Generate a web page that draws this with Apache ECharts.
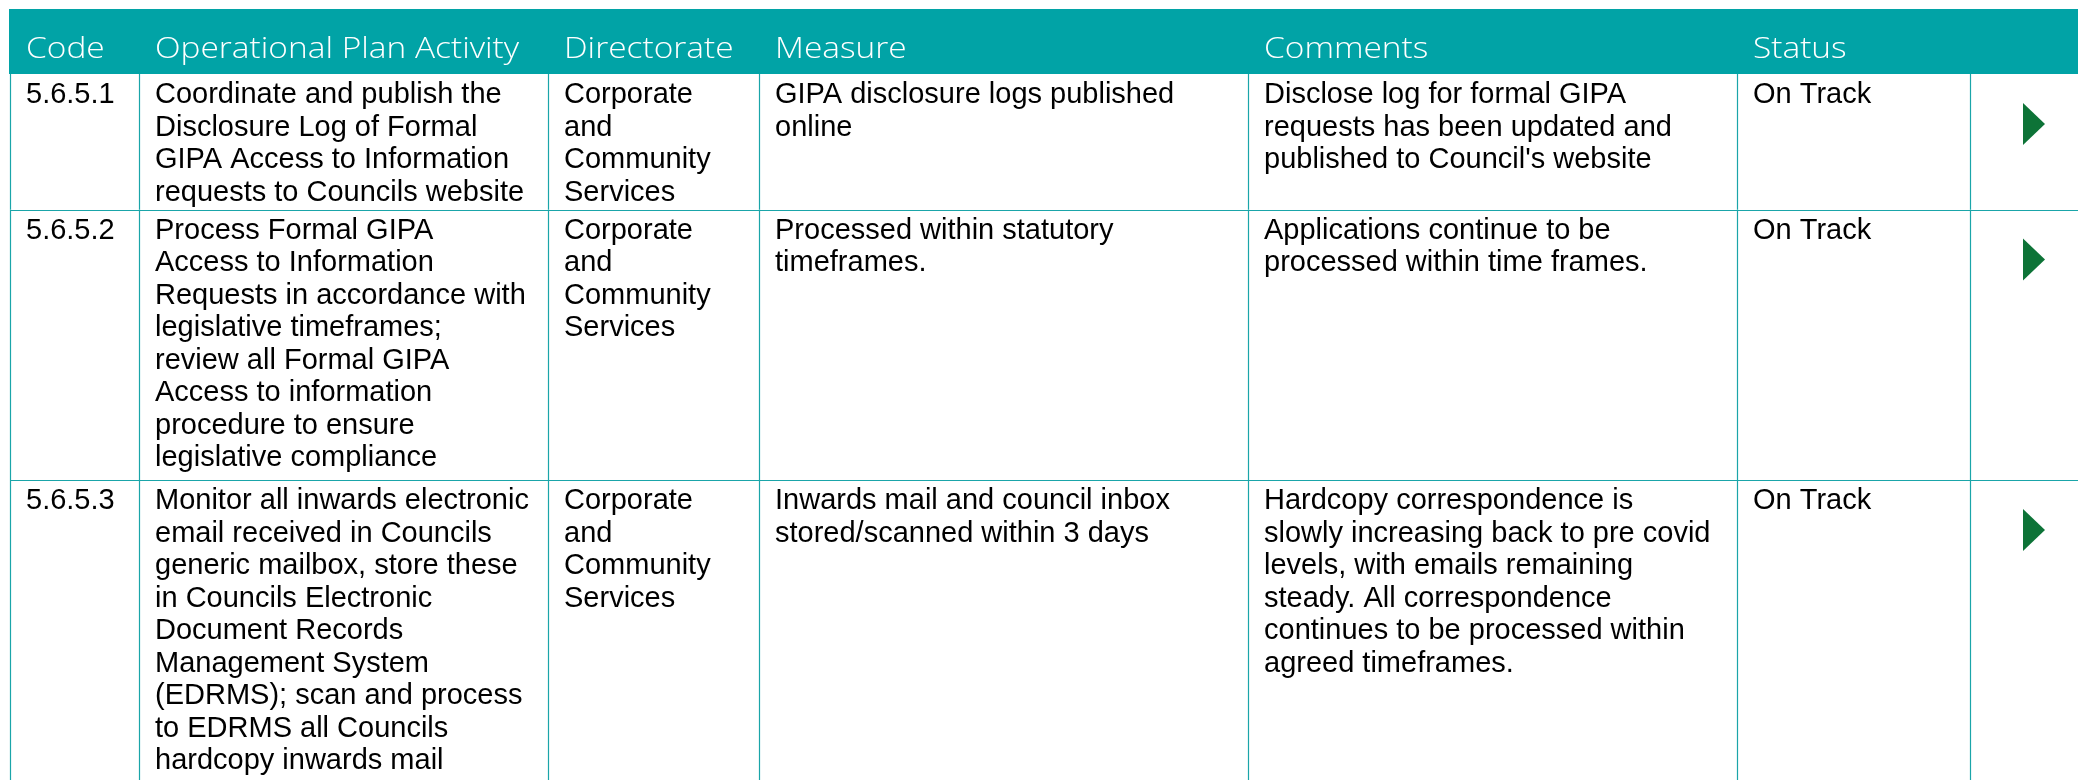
<!DOCTYPE html>
<html>
<head>
<meta charset="utf-8">
<script src="https://cdn.jsdelivr.net/npm/echarts@6/dist/echarts.min.js"></script>
<style>
  html, body { margin: 0; padding: 0; background: #ffffff; }
  #chart { width: 2078px; height: 780px; }
</style>
</head>
<body>
<div id="chart"></div>
<script>
// ---------- data ----------
const headers = ['Code', 'Operational Plan Activity', 'Directorate', 'Measure', 'Comments', 'Status', ''];
const codes = ['5.6.5.1', '5.6.5.2', '5.6.5.3'];
const activities = [
  'Coordinate and publish the\nDisclosure Log of Formal\nGIPA Access to Information\nrequests to Councils website',
  'Process Formal GIPA\nAccess to Information\nRequests in accordance with\nlegislative timeframes;\nreview all Formal GIPA\nAccess to information\nprocedure to ensure\nlegislative compliance',
  'Monitor all inwards electronic\nemail received in Councils\ngeneric mailbox, store these\nin Councils Electronic\nDocument Records\nManagement System\n(EDRMS); scan and process\nto EDRMS all Councils\nhardcopy inwards mail'
];
const directorates = [
  'Corporate\nand\nCommunity\nServices',
  'Corporate\nand\nCommunity\nServices',
  'Corporate\nand\nCommunity\nServices'
];
const measures = [
  'GIPA disclosure logs published\nonline',
  'Processed within statutory\ntimeframes.',
  'Inwards mail and council inbox\nstored/scanned within 3 days'
];
const comments = [
  "Disclose log for formal GIPA\nrequests has been updated and\npublished to Council's website",
  'Applications continue to be\nprocessed within time frames.',
  'Hardcopy correspondence is\nslowly increasing back to pre covid\nlevels, with emails remaining\nsteady. All correspondence\ncontinues to be processed within\nagreed timeframes.'
];
const statuses = ['On Track', 'On Track', 'On Track'];
const trendIcons = ['right', 'right', 'right'];

// ---------- layout (positions / styles, not data) ----------
const W = 2078, H = 780;
const colEdges = [10, 139, 548, 759, 1248, 1737, 1970, 2078];
const headerTop = 9, headerBottom = 74;
const rowEdges = [74, 209.5, 480, 820];
const TEAL = '#01a3a6';
const LINE = '#1aa5a9';
const GREEN = '#0d7337';
const bodyFont = '"Liberation Sans", Arial, sans-serif';
const headFont = '"Open Sans", "Noto Sans", sans-serif';
const bodySize = 29, lineH = 32.5, padX = 15;
const headScaleX = 1.115;

const columns = [codes, activities, directorates, measures, comments, statuses];

const headerData = headers.map((h, i) => [i]);
const bodyData = [];
for (let r = 0; r < codes.length; r++) {
  for (let c = 0; c < headers.length; c++) bodyData.push([c, r]);
}

function renderHeader(params, api) {
  const c = api.value(0);
  const p0 = api.coord([c === 0 ? colEdges[0] - 1 : colEdges[c], headerTop]);
  const p1 = api.coord([colEdges[c + 1], headerBottom]);
  const children = [{
    type: 'rect',
    shape: { x: p0[0], y: p0[1], width: p1[0] - p0[0] + 1, height: p1[1] - p0[1] },
    style: { fill: TEAL }
  }];
  if (headers[c]) {
    const t = api.coord([colEdges[c] + padX + 1, (headerTop + headerBottom) / 2 + 7.5]);
    children.push({
      type: 'text',
      x: t[0], y: t[1],
      scaleX: headScaleX, scaleY: 1,
      style: {
        text: headers[c], x: 0, y: 0,
        fill: '#ffffff', font: '300 30px ' + headFont,
        align: 'left', verticalAlign: 'middle'
      }
    });
  }
  return { type: 'group', children };
}

function renderBody(params, api) {
  const c = api.value(0), r = api.value(1);
  const top = rowEdges[r], bottom = rowEdges[r + 1];
  const tl = api.coord([colEdges[c], top]);
  const br = api.coord([colEdges[c + 1], bottom]);
  const children = [];
  // left border of cell
  children.push({
    type: 'line',
    shape: { x1: Math.round(tl[0]) + 0.5, y1: tl[1], x2: Math.round(tl[0]) + 0.5, y2: br[1] },
    style: { stroke: LINE, lineWidth: 1.2 }
  });
  // top border of cell (rows after the first)
  if (r > 0) {
    children.push({
      type: 'line',
      shape: { x1: tl[0], y1: Math.round(tl[1]) + 0.5, x2: br[0] + 1, y2: Math.round(tl[1]) + 0.5 },
      style: { stroke: LINE, lineWidth: 1.2 }
    });
  }
  if (c < columns.length) {
    const t = api.coord([colEdges[c] + padX + 1, top + 5]);
    children.push({
      type: 'text',
      style: {
        text: columns[c][r], x: t[0], y: t[1],
        fill: '#000000', font: bodySize + 'px ' + bodyFont,
        lineHeight: lineH, align: 'left', verticalAlign: 'top'
      }
    });
  } else if (trendIcons[r] === 'right') {
    const a = api.coord([colEdges[c] + 53, top + 29]);
    const b = api.coord([colEdges[c] + 75, top + 50]);
    const d = api.coord([colEdges[c] + 53, top + 71]);
    children.push({
      type: 'polygon',
      shape: { points: [a, b, d] },
      style: { fill: GREEN }
    });
  }
  return { type: 'group', children };
}

const chart = echarts.init(document.getElementById('chart'), null, { renderer: 'canvas' });
chart.setOption({
  animation: false,
  backgroundColor: '#ffffff',
  grid: { left: 0, right: 0, top: 0, bottom: 0 },
  xAxis: { type: 'value', min: 0, max: W, show: false },
  yAxis: { type: 'value', min: 0, max: H, inverse: true, show: false },
  tooltip: { show: false },
  series: [
    { type: 'custom', renderItem: renderBody, data: bodyData, clip: true, silent: true },
    { type: 'custom', renderItem: renderHeader, data: headerData, clip: true, silent: true }
  ]
});
</script>
</body>
</html>
